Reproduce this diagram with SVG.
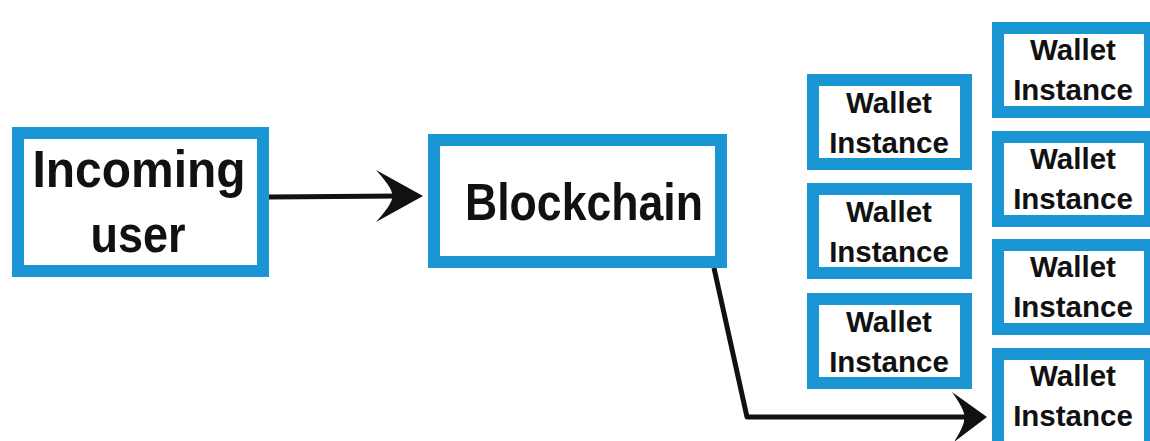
<svg xmlns="http://www.w3.org/2000/svg" width="1150" height="441" viewBox="0 0 1150 441">
<style>
.box{fill:#ffffff;stroke:#1a96d4;stroke-width:12}
.big{font-family:"Liberation Sans",Arial,sans-serif;font-weight:bold;font-size:52px;fill:#111111;text-anchor:middle}
.w{font-family:"Liberation Sans",Arial,sans-serif;font-weight:bold;font-size:29.5px;fill:#111111;text-anchor:middle}
.line{fill:none;stroke:#111111;stroke-width:5;stroke-linejoin:round}
.head{fill:#111111}
</style>
<rect width="1150" height="441" fill="#ffffff"/>
<g id="connectors">
<path class="line" d="M269,197 L400,196"/>
<path class="head" d="M423,196 L376,170 Q394,190 392,196 Q394,202 376,222 Z"/>
<path class="line" d="M714,268 L747,417 L968,417"/>
<path class="head" d="M987,417 L952,392 Q966,412 964,417 Q966,423 954,442 Z"/>
</g>
<g id="incoming">
<rect class="box" x="18" y="133" width="245" height="138"/>
<text class="big" x="139" y="187" textLength="213" lengthAdjust="spacingAndGlyphs">Incoming</text>
<text class="big" x="138" y="252" textLength="95" lengthAdjust="spacingAndGlyphs">user</text>
</g>
<g id="blockchain">
<rect class="box" x="434" y="140" width="287" height="122"/>
<text class="big" x="584" y="220" textLength="238" lengthAdjust="spacingAndGlyphs">Blockchain</text>
</g>
<g id="wallet-l1">
<rect class="box" x="813" y="80" width="153" height="84"/>
<text class="w" x="889" y="113">Wallet</text>
<text class="w" x="889" y="153">Instance</text>
</g>
<g id="wallet-l2">
<rect class="box" x="813" y="189" width="153" height="84"/>
<text class="w" x="889" y="222">Wallet</text>
<text class="w" x="889" y="262">Instance</text>
</g>
<g id="wallet-l3">
<rect class="box" x="813" y="299" width="153" height="84"/>
<text class="w" x="889" y="332">Wallet</text>
<text class="w" x="889" y="372">Instance</text>
</g>
<g id="wallet-r1">
<rect class="box" x="998" y="28" width="152" height="84"/>
<text class="w" x="1073" y="60">Wallet</text>
<text class="w" x="1073" y="100">Instance</text>
</g>
<g id="wallet-r2">
<rect class="box" x="998" y="137" width="152" height="84"/>
<text class="w" x="1073" y="169">Wallet</text>
<text class="w" x="1073" y="209">Instance</text>
</g>
<g id="wallet-r3">
<rect class="box" x="998" y="245" width="152" height="84"/>
<text class="w" x="1073" y="277">Wallet</text>
<text class="w" x="1073" y="317">Instance</text>
</g>
<g id="wallet-r4">
<rect class="box" x="998" y="354" width="152" height="96"/>
<text class="w" x="1073" y="386">Wallet</text>
<text class="w" x="1073" y="426">Instance</text>
</g>
</svg>
